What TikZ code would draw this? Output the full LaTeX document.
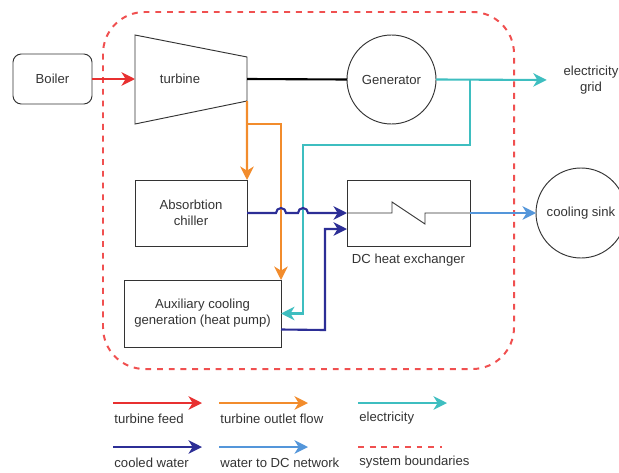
\documentclass[tikz,border=0pt]{standalone}
\usepackage{fontspec}
\setmainfont{Liberation Sans}
\usepackage{xcolor}
\usetikzlibrary{arrows.meta,positioning,calc}

\definecolor{feedred}{RGB}{232,48,48}
\definecolor{outorange}{RGB}{242,140,44}
\definecolor{eleccyan}{RGB}{62,190,192}
\definecolor{coolblue}{RGB}{44,46,150}
\definecolor{dcblue}{RGB}{84,150,218}
\definecolor{bndred}{RGB}{240,80,80}
\definecolor{ink}{RGB}{51,51,51}

\begin{document}
\begin{tikzpicture}[x=0.03cm,y=-0.03cm, font=\fontsize{11.2}{13.6}\selectfont, text=ink,
  box/.style={draw=ink, line width=0.8pt, inner sep=0pt, outer sep=0pt, align=center},
  flow/.style={line width=1.8pt, -{Stealth[length=11.5pt,width=11.5pt,inset=3.5pt]}},
  feed/.style={flow, draw=feedred},
  outlet/.style={flow, draw=outorange},
  elec/.style={flow, draw=eleccyan},
  cooled/.style={flow, draw=coolblue},
  dcwater/.style={flow, draw=dcblue},
  boundary/.style={draw=bndred, line width=1.7pt, dash pattern=on 5pt off 5pt}]

 \useasboundingbox (0,0) rectangle (619,472);

 % system boundaries
 \draw[boundary, rounded corners=1.25cm] (103,12) rectangle (514,369);

 % components
 \node[box, rounded corners=0.25cm, minimum width=2.37cm, minimum height=1.5cm] (boiler) at (52.5,79) {Boiler};
 \draw[ink, line width=0.8pt] (135,35) -- (247,57) -- (247,101) -- (135,124) -- cycle;
 \node (turbine) at (180,79) {turbine};
 \coordinate (tin) at (135,79);
 \coordinate (tout) at (247,79);
 \coordinate (texit) at (247,101);
 \coordinate (obranch) at (247,124);
 \node[box, circle, minimum size=2.67cm] (gen) at (391.5,79.5) {Generator};
 \node[inner sep=0pt, align=center] (grid) at (591,80) {electricity\\grid};
 \coordinate (ebranch) at (470,79.5);
 \coordinate (ecross) at (303,145);
 \node[box, minimum width=3.36cm, minimum height=1.98cm] (chiller) at (191,213) {Absorbtion\\chiller};
 \node[box, minimum width=3.69cm, minimum height=1.98cm] (hx) at (408.5,213) {};
 \node[below=3pt of hx] (hxlabel) {DC heat exchanger};
 \node[box, minimum width=4.71cm, minimum height=2.01cm] (aux) at (202.5,313.5) {Auxiliary cooling\\generation (heat pump)};
 \node[box, circle, minimum size=2.7cm] (sink) at (581,213) {cooling sink};

 % heat exchanger symbol
 \draw[ink, line width=0.8pt] (hx.west) -- (392,213) -- (392,202) -- (425,224) -- (425,213) -- (hx.east);

 % flows
 \draw[line width=1.8pt] (tout) -- (gen.west);
 \draw[feed] (boiler.east) -- (tin);
 \draw[outlet] (texit) -- (chiller.north east);
 \draw[outlet] (obranch) -| (aux.north east);
 \draw[elec] (gen.east) -- ([xshift=-0.5cm]grid.west);
 \draw[elec] (ebranch) |- (ecross) |- (aux.east);
 \draw[cooled] (chiller.east) -- (276,213) arc[start angle=180,end angle=0,radius=0.15cm]
   -- (298,213) arc[start angle=180,end angle=0,radius=0.15cm] -- (hx.west);
 \draw[cooled] ([yshift=-0.48cm]aux.east) -- (325,330) |- ([yshift=-0.48cm]hx.west);
 \draw[dcwater] (hx.east) -- (sink.west);

 % legend
 \foreach \x/\y/\sty/\name/\len in {113/403/feed/turbine feed/89, 219/403/outlet/turbine outlet flow/89,
   358/403/elec/electricity/89, 113/447/cooled/cooled water/89, 219/447/dcwater/water to DC network/89,
   358/447/boundary/system boundaries/84}{
   \coordinate (leg-\x-\y) at (\x,\y);
   \coordinate (legend-\x-\y) at (\x+\len,\y);
   \draw[\sty] (leg-\x-\y) -- (legend-\x-\y);
   \node[anchor=west, inner sep=1pt] (legtext-\x-\y) at (\x,\y+15.5) {\name};
 }

\end{tikzpicture}
\end{document}
